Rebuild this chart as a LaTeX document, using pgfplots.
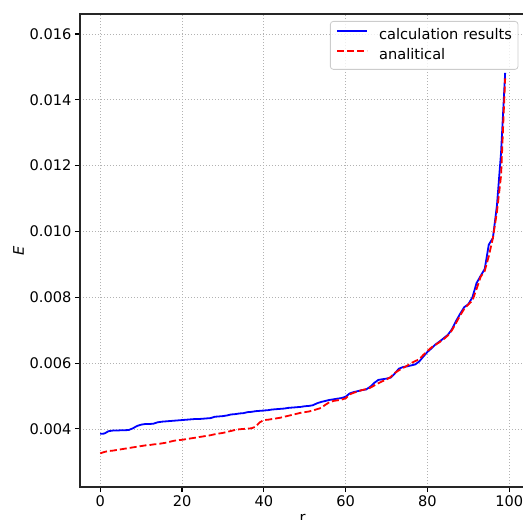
\documentclass[border=0pt]{standalone}
\usepackage{fontspec}
\setmainfont{DejaVu Sans}
\usepackage{pgfplots}
\pgfplotsset{compat=1.18}
\newcommand{\fs}{\fontsize{14.6bp}{17.5bp}\selectfont}

\pgfplotstableread{
r E
0 0.00385
1 0.00386
2 0.00393
3 0.00395
4 0.00395
5 0.00396
6 0.00396
7 0.00397
8 0.00402
9 0.00409
10 0.00413
11 0.00415
12 0.00415
13 0.00416
14 0.00420
15 0.00422
16 0.00423
17 0.00424
18 0.00425
19 0.00426
20 0.00427
21 0.00428
22 0.00429
23 0.00430
24 0.00430
25 0.00431
26 0.00432
27 0.00433
28 0.00437
29 0.00438
30 0.00439
31 0.00441
32 0.00444
33 0.00445
34 0.00447
35 0.00448
36 0.00451
37 0.00452
38 0.00454
39 0.00455
40 0.00456
41 0.00457
42 0.00459
43 0.00460
44 0.00461
45 0.00462
46 0.00464
47 0.00465
48 0.00466
49 0.00467
50 0.00469
51 0.00470
52 0.00472
53 0.00478
54 0.00482
55 0.00485
56 0.00488
57 0.00490
58 0.00492
59 0.00494
60 0.00498
61 0.00508
62 0.00512
63 0.00515
64 0.00518
65 0.00520
66 0.00528
67 0.00540
68 0.00549
69 0.00551
70 0.00553
71 0.00556
72 0.00568
73 0.00583
74 0.00588
75 0.00590
76 0.00593
77 0.00596
78 0.00605
79 0.00620
80 0.00634
81 0.00645
82 0.00657
83 0.00666
84 0.00676
85 0.00686
86 0.00703
87 0.00728
88 0.00750
89 0.00770
90 0.00779
91 0.00800
92 0.00843
93 0.00865
94 0.00886
95 0.00960
96 0.00980
97 0.01080
98 0.01240
99 0.01482
}\calc

\pgfplotstableread{
r E
0 0.00326
1 0.00330
2 0.00333
3 0.00334
4 0.00336
5 0.00338
6 0.00340
7 0.00342
8 0.00344
9 0.00346
10 0.00348
11 0.00350
12 0.00351
13 0.00353
14 0.00354
15 0.00356
16 0.00358
17 0.00361
18 0.00364
19 0.00366
20 0.00367
21 0.00369
22 0.00371
23 0.00373
24 0.00375
25 0.00377
26 0.00379
27 0.00381
28 0.00384
29 0.00386
30 0.00388
31 0.00391
32 0.00394
33 0.00397
34 0.00399
35 0.00400
36 0.00401
37 0.00402
38 0.00407
39 0.00420
40 0.00427
41 0.00428
42 0.00430
43 0.00432
44 0.00434
45 0.00437
46 0.00440
47 0.00443
48 0.00446
49 0.00449
50 0.00451
51 0.00453
52 0.00456
53 0.00460
54 0.00464
55 0.00473
56 0.00481
57 0.00485
58 0.00487
59 0.00489
60 0.00493
61 0.00505
62 0.00510
63 0.00514
64 0.00518
65 0.00521
66 0.00525
67 0.00532
68 0.00539
69 0.00545
70 0.00550
71 0.00558
72 0.00570
73 0.00578
74 0.00585
75 0.00592
76 0.00600
77 0.00606
78 0.00612
79 0.00625
80 0.00637
81 0.00648
82 0.00656
83 0.00664
84 0.00673
85 0.00684
86 0.00700
87 0.00722
88 0.00745
89 0.00765
90 0.00778
91 0.00790
92 0.00825
93 0.00862
94 0.00880
95 0.00925
96 0.00980
97 0.01060
98 0.01170
99 0.01465
}\anal

\begin{document}
\begin{tikzpicture}
\begin{axis}[
    scale only axis,
    width=445.4bp,
    height=473bp,
    xmin=-4.95, xmax=103.95,
    ymin=0.002236, ymax=0.016608,
    xtick={0,20,40,60,80,100},
    ytick={0.004,0.006,0.008,0.010,0.012,0.014,0.016},
    scaled y ticks=false,
    /pgf/number format/assume math mode=true,
    xticklabel={\mbox{\fs\pgfmathprintnumber{\tick}}},
    yticklabel={\mbox{\fs\pgfmathprintnumber[fixed,fixed zerofill,precision=3]{\tick}}},
    tick pos=left,
    tick align=outside,
    major tick length=5bp,
    tick style={black, line width=1.1bp},
    axis line style={black!85, line width=1.1bp},
    grid=major,
    grid style={gray!60, line width=0.7bp, dash pattern=on 1.5bp off 1.5bp},
    xlabel={\mbox{\fs r}},
    ylabel={\mbox{\fs\itshape E}},
    xlabel style={at={(axis description cs:0.5,-0.074)}, anchor=base},
    ylabel style={at={(axis description cs:-0.138,0.5)}, anchor=center},
    legend style={
        at={(1,1)}, xshift=-7bp, yshift=-7bp, anchor=north east,
        draw=black!20, line width=0.8bp, fill=white, fill opacity=0.8, text opacity=1,
        rounded corners=3bp,
        font=\fs,
        nodes={inner sep=0pt, text height=12.5bp, text depth=3.5bp},
        row sep=4bp,
        inner xsep=6bp, inner ysep=6bp,
        /tikz/every odd column/.append style={column sep=11bp},
    },
    legend cell align=left,
    legend image code/.code={\draw[#1, line width=1.8bp] (0bp,4.5bp) -- (30bp,4.5bp);},
]
\coordinate (sw) at (rel axis cs:0,0);
\addplot[blue, line width=1.8bp] table[x=r, y=E] {\calc};
\addlegendentry{calculation results}
\addplot[red, line width=1.8bp, dash pattern=on 7bp off 3bp] table[x=r, y=E] {\anal};
\addlegendentry{analitical}
\end{axis}
\pgfresetboundingbox
\path[use as bounding box] ([shift={(-80bp,-33bp)}]sw) rectangle ([shift={(443bp,487bp)}]sw);
\end{tikzpicture}
\end{document}
